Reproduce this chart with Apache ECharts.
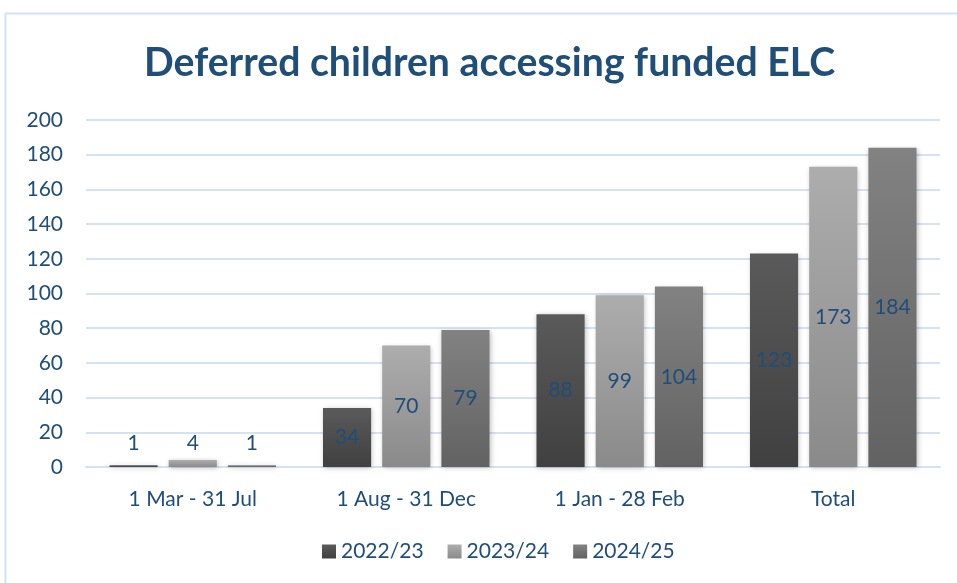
<!DOCTYPE html>
<html><head><meta charset="utf-8">
<script src="https://cdn.jsdelivr.net/npm/echarts@6/dist/echarts.min.js"></script>
<style>html,body{margin:0;padding:0;background:#fff}#c{width:957px;height:583px}</style>
</head><body><div id="c"></div>
<script>
var categories = ['1 Mar - 31 Jul', '1 Aug - 31 Dec', '1 Jan - 28 Feb', 'Total'];
var seriesNames = ['2022/23', '2023/24', '2024/25'];
var values2022 = [1, 34, 88, 123];
var values2023 = [4, 70, 99, 173];
var values2024 = [1, 79, 104, 184];
var yTicks = {min: 0, max: 200, interval: 20};

var FONT = 'Lato';
var TXT = '#1F4E79';
var gradients = [
  ['#5A5A5A', '#404040'],
  ['#ADADAD', '#8A8A8A'],
  ['#828282', '#626262']
];
function grad(c){
  return new echarts.graphic.LinearGradient(0,0,0,1,[{offset:0,color:c[0]},{offset:1,color:c[1]}]);
}
function mkData(vals){
  return vals.map(function(v){
    if (v < 10) return {value: v, label: {position: 'insideBottom', distance: 13}};
    return v;
  });
}
var allVals = [values2022, values2023, values2024];
var series = allVals.map(function(vals, i){
  return {
    name: seriesNames[i], type: 'bar',
    data: mkData(vals),
    barGap: '23%', barCategoryGap: '22%',
    itemStyle: {color: grad(gradients[i]), shadowBlur: 5, shadowColor: 'rgba(0,0,0,0.25)', shadowOffsetX: 1, shadowOffsetY: 1},
    label: {show: true, position: 'inside', color: TXT, fontFamily: FONT, fontSize: 21},
    emphasis: {disabled: true}
  };
});
var chart = echarts.init(document.getElementById('c'));
chart.setOption({
  animation: false,
  title: {text: 'Deferred children accessing funded ELC', left: 139, top: 39,
    textStyle: {color: TXT, fontFamily: FONT, fontWeight: 'bold', fontSize: 39.2}},
  graphic: [{type: 'rect', shape: {x: 5.5, y: 13.5, width: 1200, height: 1000},
    style: {fill: 'none', stroke: '#D5E2F3', lineWidth: 2}, silent: true}],
  legend: {data: seriesNames, bottom: 16, left: 317, itemWidth: 14, itemHeight: 14, itemGap: 24,
    icon: 'rect', textStyle: {color: TXT, fontFamily: FONT, fontSize: 21}},
  grid: {left: 86, right: 17, top: 120, bottom: 116},
  xAxis: {type: 'category', data: categories,
    axisLine: {lineStyle: {color: '#D5E2F3', width: 2}}, axisTick: {show: false},
    axisLabel: {color: TXT, fontFamily: FONT, fontSize: 21, margin: 22}},
  yAxis: {type: 'value', min: yTicks.min, max: yTicks.max, interval: yTicks.interval,
    axisLine: {show: false}, axisTick: {show: false},
    splitLine: {lineStyle: {color: '#D5E2F3', width: 2}},
    axisLabel: {color: TXT, fontFamily: FONT, fontSize: 21, margin: 23}},
  series: series
});
</script></body></html>
